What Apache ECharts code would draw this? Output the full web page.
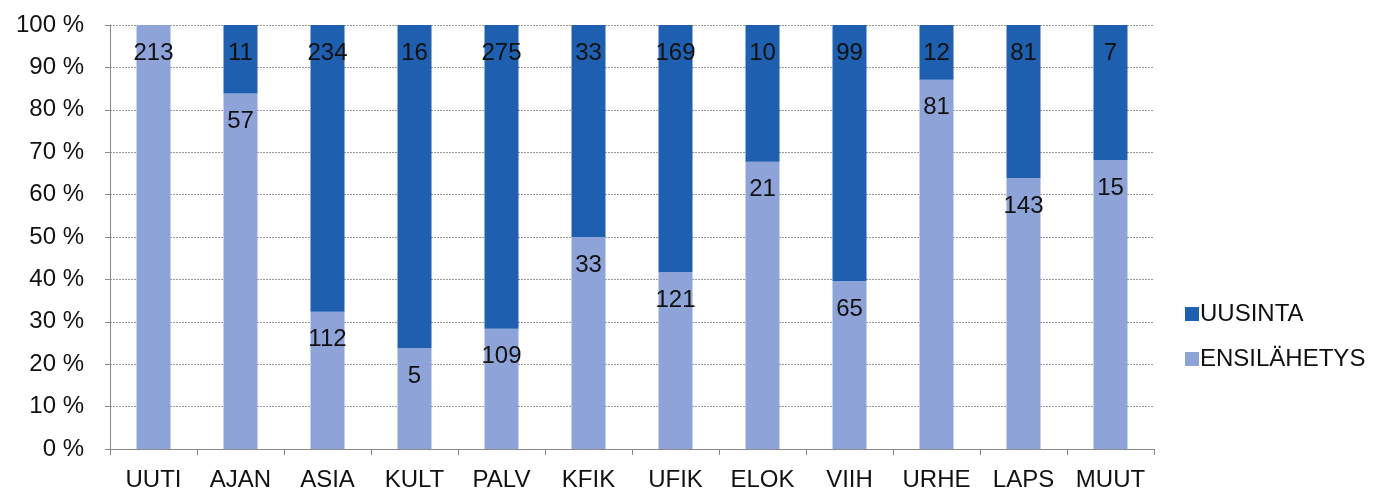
<!DOCTYPE html>
<html>
<head>
<meta charset="utf-8">
<script src="https://cdn.jsdelivr.net/npm/echarts@6/dist/echarts.min.js"></script>
<style>
  html, body { margin: 0; padding: 0; background: #fff; }
  #chart { width: 1389px; height: 492px; }
</style>
</head>
<body>
<div id="chart"></div>
<script>
const categories = ['UUTI', 'AJAN', 'ASIA', 'KULT', 'PALV', 'KFIK', 'UFIK', 'ELOK', 'VIIH', 'URHE', 'LAPS', 'MUUT']
const ensilahetys = [213, 57, 112, 5, 109, 33, 121, 21, 65, 81, 143, 15]
const uusinta = [0, 11, 234, 16, 275, 33, 169, 10, 99, 12, 81, 7]

// share of each category total, counts stay on the labels
const totals = categories.map((c, i) => ensilahetys[i] + uusinta[i])
const toShare = (arr) => arr.map((v, i) => ({ value: v / totals[i] * 100, count: v }))

const font = 'Liberation Sans, Arial, sans-serif'
const label = {
  show: true,
  position: 'insideTop',
  distance: 16,
  fontFamily: font,
  fontSize: 24,
  color: '#111',
  formatter: p => p.data.count ? String(p.data.count) : ''
}

const chart = echarts.init(document.getElementById('chart'))
chart.setOption({
  animation: false,
  textStyle: { fontFamily: font },
  grid: { left: 110, right: 235, top: 25, bottom: 43 },
  legend: {
    orient: 'vertical',
    left: 1180,
    top: 297,
    itemGap: 21,
    itemWidth: 14,
    itemHeight: 14,
    icon: 'rect',
    textStyle: { fontFamily: font, fontSize: 24, color: '#111', padding: [0, 0, 0, -4] },
    data: ['UUSINTA', 'ENSILÄHETYS']
  },
  xAxis: {
    type: 'category',
    data: categories,
    axisLine: { lineStyle: { color: '#888' } },
    axisTick: { show: true, length: 6, lineStyle: { color: '#888' } },
    axisLabel: { interval: 0, hideOverlap: false, fontFamily: font, fontSize: 24, color: '#111', margin: 19 }
  },
  yAxis: {
    type: 'value',
    min: 0,
    max: 100,
    interval: 10,
    axisLine: { show: true, lineStyle: { color: '#888' } },
    axisTick: { show: true, length: 5, lineStyle: { color: '#888' } },
    axisLabel: { fontFamily: font, fontSize: 24, color: '#111', margin: 26, formatter: '{value} %' },
    splitLine: { lineStyle: { color: '#999', type: [2, 1] } }
  },
  series: [
    {
      name: 'ENSILÄHETYS',
      type: 'bar',
      stack: 'all',
      barWidth: 34,
      itemStyle: { color: '#8EA4D9' },
      label: label,
      data: toShare(ensilahetys)
    },
    {
      name: 'UUSINTA',
      type: 'bar',
      stack: 'all',
      barWidth: 34,
      itemStyle: { color: '#1F5FAF' },
      label: label,
      data: toShare(uusinta)
    }
  ]
})
</script>
</body>
</html>
